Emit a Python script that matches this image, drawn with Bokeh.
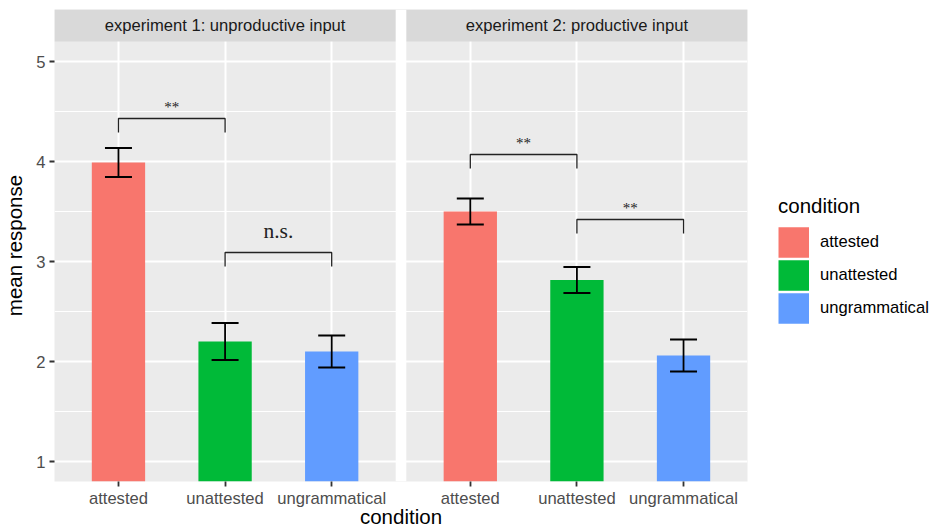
import math
from bokeh.plotting import figure
from bokeh.models import (ColumnDataSource, FixedTicker, Whisker, TeeHead,
                          BoxAnnotation, Label, Legend, LegendItem)
from bokeh.embed import file_html
from bokeh.resources import INLINE
from bokeh.core.properties import value

# ---------------- data ----------------
conditions = ["attested", "unattested", "ungrammatical"]
experiments = ["experiment 1: unproductive input", "experiment 2: productive input"]
exp1_mean = [3.99, 2.20, 2.10]
exp1_err = [0.145, 0.185, 0.16]
exp2_mean = [3.50, 2.815, 2.06]
exp2_err = [0.13, 0.13, 0.16]
colors = ["#F8766D", "#00BA38", "#619CFF"]

# significance brackets
sig_exp = [0, 0, 1, 1]
sig_from = [0, 1, 0, 1]
sig_to = [1, 2, 1, 2]
sig_y = [4.43, 3.09, 4.07, 3.42]
sig_label = ["**", "n.s.", "**", "**"]

y_ticks = [1, 2, 3, 4, 5]

# ---------------- layout constants ----------------
PANEL_OFFSET = 3.3       # x distance between facets (panel width 3.2 + gap 0.1)
X_LO, X_HI = 0.4, 3.6    # single-panel x extent
Y_LO, Y_HI = 0.8, 5.2
STRIP = 0.32             # strip height (data units)
TIP = 0.14
FRAME_W, FRAME_H = 693, 472
PPU_Y = FRAME_H / (Y_HI + STRIP - Y_LO)

xs, tops, lowers, uppers, cols, conds = [], [], [], [], [], []
for e, (means, errs) in enumerate([(exp1_mean, exp1_err), (exp2_mean, exp2_err)]):
    for i, c in enumerate(conditions):
        xs.append(i + 1 + e * PANEL_OFFSET)
        tops.append(means[i])
        lowers.append(means[i] - errs[i])
        uppers.append(means[i] + errs[i])
        cols.append(colors[i])
        conds.append(c)
src = ColumnDataSource(dict(x=xs, top=tops, lower=lowers, upper=uppers,
                            color=cols, condition=conds))

x_ticks = list(xs)

p = figure(frame_width=FRAME_W, frame_height=FRAME_H,
           x_range=(X_LO, X_HI + PANEL_OFFSET), y_range=(Y_LO, Y_HI + STRIP),
           output_backend="svg", toolbar_location=None, title=None,
           min_border_left=51, min_border_right=186, min_border_top=9,
           min_border_bottom=50,
           background_fill_color="#EBEBEB", border_fill_color="white",
           outline_line_color=None)

# grids
p.xgrid.ticker = FixedTicker(ticks=x_ticks)
p.xgrid.grid_line_color = "white"
p.xgrid.grid_line_width = 2
minor_y = [(a + b) / 2 for a, b in zip(y_ticks[:-1], y_ticks[1:])]
p.ygrid.ticker = FixedTicker(ticks=y_ticks, minor_ticks=minor_y)
p.ygrid.grid_line_color = "white"
p.ygrid.grid_line_width = 2
p.ygrid.minor_grid_line_color = "white"
p.ygrid.minor_grid_line_width = 1

# axes
p.xaxis.ticker = FixedTicker(ticks=x_ticks, minor_ticks=[])
p.xaxis.major_label_overrides = {x: c for x, c in zip(xs, conds)}
p.yaxis.ticker = FixedTicker(ticks=y_ticks, minor_ticks=[])
for ax in (p.xaxis[0], p.yaxis[0]):
    ax.axis_line_color = None
    ax.major_tick_line_color = "#333333"
    ax.major_tick_line_width = 1.8
    ax.major_tick_out = 5
    ax.major_tick_in = 0
    ax.minor_tick_line_color = None
    ax.major_label_text_font = "Liberation Sans"
    ax.major_label_text_font_size = "16.6px"
    ax.major_label_text_color = "#4D4D4D"
    ax.axis_label_text_font = "Liberation Sans"
    ax.axis_label_text_font_size = "20.5px"
    ax.axis_label_text_font_style = "normal"
    ax.axis_label_text_color = "black"
p.xaxis.major_label_standoff = 2
p.yaxis.major_label_standoff = 4
p.xaxis.axis_label = "condition"
p.xaxis.axis_label_standoff = -6
p.yaxis.axis_label = "mean response"
p.yaxis.axis_label_standoff = 7

# bars
bars = p.vbar(x="x", top="top", bottom=0, width=0.5, fill_color="color",
              line_color=None, source=src)

# error bars
p.add_layout(Whisker(base="x", upper="upper", lower="lower", source=src,
                     line_color="black", line_width=1.8, level="annotation",
                     upper_head=TeeHead(size=27, line_color="black", line_width=1.8),
                     lower_head=TeeHead(size=27, line_color="black", line_width=1.8)))

# strips and facet gap
p.add_layout(BoxAnnotation(bottom=Y_HI, fill_color="#D9D9D9", fill_alpha=1,
                           line_color=None, level="annotation"))
p.add_layout(BoxAnnotation(left=X_HI, right=X_LO + PANEL_OFFSET, fill_color="white",
                           fill_alpha=1, line_color=None, level="annotation"))
for e, name in enumerate(experiments):
    p.add_layout(Label(x=(X_LO + X_HI) / 2 + e * PANEL_OFFSET, y=Y_HI + STRIP / 2,
                       text=name, text_align="center", text_baseline="middle",
                       text_font="Liberation Sans", text_font_size="16.6px",
                       text_color="#1A1A1A"))

# significance brackets
bx, by, tx, ty, tsz = [], [], [], [], []
label_style = {"**": ("15px", 12), "n.s.": ("21.5px", 22)}
for e, a, b, yb, lab in zip(sig_exp, sig_from, sig_to, sig_y, sig_label):
    x1 = a + 1 + e * PANEL_OFFSET
    x2 = b + 1 + e * PANEL_OFFSET
    bx.append([x1, x1, x2, x2])
    by.append([yb - TIP, yb, yb, yb - TIP])
    size, off = label_style[lab]
    tx.append((x1 + x2) / 2)
    ty.append(yb + off / PPU_Y)
    tsz.append(size)
p.multi_line(xs=bx, ys=by, line_color="#222222", line_width=1.3)
p.text(x=tx, y=ty, text=sig_label, text_font=value("Liberation Serif"),
       text_font_size=tsz, text_align="center", text_baseline="alphabetic",
       text_color="#222222")

# legend (keys drawn as thick butt-capped line swatches; the swatch renderers hold
# a single undefined point so nothing shows inside the panels)
nan = float("nan")
key_renderers = [p.line(x=[nan], y=[nan], line_color=c, line_width=30.5, line_cap="butt")
                 for c in colors]
items = [LegendItem(label=c, renderers=[r]) for c, r in zip(conditions, key_renderers)]
legend = Legend(items=items, location=(31, 157), orientation="vertical",
                glyph_width=31, glyph_height=32, label_height=32, label_standoff=11,
                spacing=1, padding=0, margin=0,
                label_text_font="Liberation Sans", label_text_font_size="16.6px",
                label_text_color="black",
                title="condition", title_text_font="Liberation Sans",
                title_text_font_size="20.5px", title_text_font_style="normal",
                title_text_color="black", title_standoff=8,
                border_line_color=None, background_fill_alpha=0)
p.add_layout(legend, "right")

open("out.html", "w").write(file_html(p, INLINE))
